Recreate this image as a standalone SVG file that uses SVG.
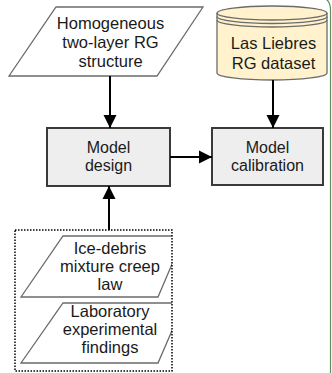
<svg xmlns="http://www.w3.org/2000/svg" width="332" height="373" viewBox="0 0 332 373">
  <style>
    .lbl { font-family: "Liberation Sans", Arial, sans-serif; font-size: 16.5px; fill: #1a1a1a; text-anchor: middle; }
    .box { font-size: 16px; }
    .para { fill: #ffffff; stroke: #6b6b6b; stroke-width: 1.3; }
    .proc { fill: #eeeeee; stroke: #3a3a3a; stroke-width: 2; }
    .db { fill: #fff2cc; stroke: #6b6b6b; stroke-width: 1.3; }
    .wire { fill: none; stroke: #000000; stroke-width: 2; }
    .group { fill: none; stroke: #000000; stroke-width: 1.5; stroke-dasharray: 1.5 1.5; }
  </style>
  <defs>
    <marker id="arrow" viewBox="0 0 10 10" refX="10" refY="5" markerWidth="6.5" markerHeight="7" markerUnits="strokeWidth" orient="auto">
      <path d="M0,0 L10,5 L0,10 Z" fill="#000000"/>
    </marker>
    <!-- input shapes are cut off at the group frame -->
    <clipPath id="group-clip">
      <rect x="0" y="228" width="172" height="145"/>
    </clipPath>
  </defs>

  <rect width="332" height="373" fill="#ffffff"/>

  <!-- enclosing panel edge -->
  <path d="M318,-3 Q330.5,-3 330.5,10 L330.5,373" fill="none" stroke="#5b8f5b" stroke-width="1.2"/>

  <g id="structure">
    <polygon class="para" points="9,76 56,7 203,7 157,76"/>
    <text class="lbl" x="110.5" y="29">Homogeneous</text>
    <text class="lbl" x="110.5" y="48">two-layer RG</text>
    <text class="lbl" x="110.5" y="67">structure</text>
  </g>

  <g id="dataset">
    <path class="db" d="M217,13 A55,7 0 0 1 327,13 L327,73 A55,7 0 0 1 217,73 Z"/>
    <path d="M217,13 A55,7 0 0 0 327,13 M217,16.5 A55,7 0 0 0 327,16.5 M217,20 A55,7 0 0 0 327,20" fill="none" stroke="#6b6b6b" stroke-width="1.3"/>
    <text class="lbl" x="273.5" y="49">Las Liebres</text>
    <text class="lbl" x="273.5" y="69">RG dataset</text>
  </g>

  <g id="design">
    <rect class="proc" x="47" y="128" width="123" height="58"/>
    <text class="lbl box" x="108.5" y="153">Model</text>
    <text class="lbl box" x="108.5" y="171">design</text>
  </g>

  <g id="calibration">
    <rect class="proc" x="212" y="128" width="111" height="57"/>
    <text class="lbl box" x="267.5" y="153">Model</text>
    <text class="lbl box" x="267.5" y="171">calibration</text>
  </g>

  <g id="creep-law">
    <polygon class="para" points="21,297 63,236 184,236 158,297" clip-path="url(#group-clip)"/>
    <text class="lbl" x="110" y="254">Ice-debris</text>
    <text class="lbl" x="110" y="272">mixture creep</text>
    <text class="lbl" x="110" y="290">law</text>
  </g>

  <g id="lab-findings">
    <polygon class="para" points="21,363 63,303 184,303 158,363" clip-path="url(#group-clip)"/>
    <text class="lbl" x="110" y="317">Laboratory</text>
    <text class="lbl" x="110" y="335">experimental</text>
    <text class="lbl" x="110" y="353">findings</text>
  </g>

  <!-- grouped inputs frame -->
  <rect id="inputs-group" class="group" x="15" y="230" width="157" height="141"/>

  <g id="connectors">
    <line class="wire" x1="110" y1="76" x2="110" y2="128" marker-end="url(#arrow)"/>
    <line class="wire" x1="273" y1="80" x2="273" y2="128" marker-end="url(#arrow)"/>
    <line class="wire" x1="170" y1="157" x2="212" y2="157" marker-end="url(#arrow)"/>
    <line class="wire" x1="109" y1="230" x2="109" y2="186" marker-end="url(#arrow)"/>
  </g>
</svg>
